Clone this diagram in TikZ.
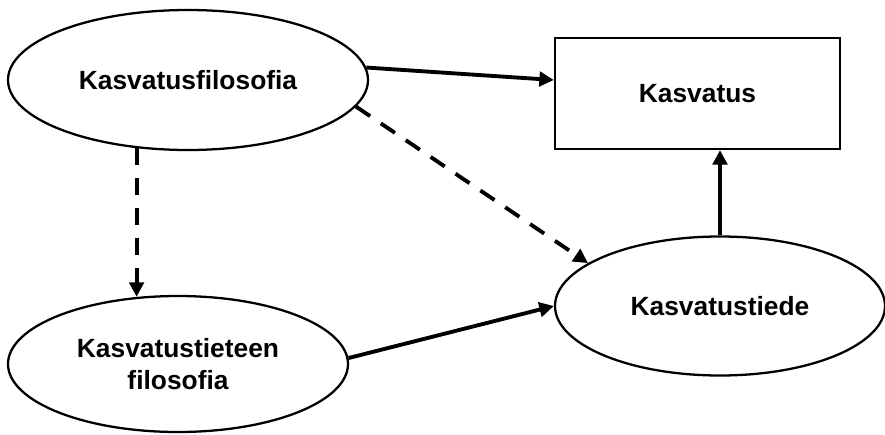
\documentclass[tikz,border=0pt]{standalone}
\usepackage{fontspec}
\setmainfont{Liberation Sans}
\usepackage{tikz}
\usetikzlibrary{calc,arrows.meta,positioning,shapes.geometric}

\begin{document}
\begin{tikzpicture}[
  txt/.style={font=\fontsize{15}{18.2}\selectfont\bfseries, align=center},
  oval/.style={ellipse, draw, line width=1.3pt, inner sep=0pt, txt},
  box/.style={rectangle, draw, line width=1.3pt, inner sep=0pt, txt},
  link/.style={line width=2.2pt, -{Triangle[length=2.9mm, width=2.9mm]}},
  dlink/.style={link, dash pattern=on 3.4mm off 2.6mm}
]
\useasboundingbox (0,0) rectangle (17.7,8.68);
\node[oval, minimum width=7.2cm, minimum height=2.8cm] (kf) at (3.76,7.08) {Kasvatusfilosofia};
\node[box, minimum width=5.7cm, minimum height=2.22cm] (kr) at (13.95,6.81) {Kasvatus};
\node[oval, minimum width=6.6cm, minimum height=2.78cm] (kt) at (14.4,2.56) {Kasvatustiede};
\node[oval, minimum width=6.8cm, minimum height=2.72cm] (kp) at (3.56,1.40) {Kasvatustieteen\\filosofia};

\draw[link] (kf.4) -- ([yshift=2.7mm]kr.west);
\draw[dlink] (kf.-9) -- (kt.162);
\draw[dlink] (kf.-127) -- (kf.-127 |- kp.121);
\draw[link] (kp.2) -- (kt.west);
\draw[link] (kt.north) -- (kt.north |- kr.south);
\end{tikzpicture}
\end{document}
